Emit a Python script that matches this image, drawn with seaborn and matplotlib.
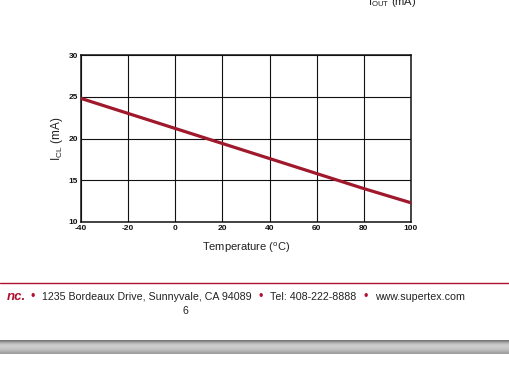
import numpy as np
import pandas as pd
import matplotlib
matplotlib.use("Agg")
import matplotlib.pyplot as plt
import seaborn as sns

temperature = [-40, -20, 0, 20, 40, 60, 80, 100]
i_cl = [24.8, 23.0, 21.2, 19.4, 17.6, 15.8, 14.0, 12.3]
x_ticks = [-40, -20, 0, 20, 40, 60, 80, 100]
y_ticks = [10, 15, 20, 25, 30]

sns.set_theme(style="white")
plt.rcParams['font.family'] = ['Liberation Sans', 'DejaVu Sans']

W, H = 510, 370
fig = plt.figure(figsize=(W / 100, H / 100), dpi=100)
ax = fig.add_axes([81 / W, 1 - 222 / H, 330 / W, 167 / H])

df = pd.DataFrame({"Temperature": temperature, "ICL": i_cl})
sns.lineplot(data=df, x="Temperature", y="ICL", ax=ax, color="#A0182C",
             linewidth=2.3, zorder=5)

ax.set_xlim(-40, 100)
ax.set_ylim(10, 30)
ax.set_xticks(x_ticks)
ax.set_yticks(y_ticks)
ax.set_xticklabels([str(v) for v in x_ticks])
ax.set_yticklabels([str(v) for v in y_ticks])
ax.tick_params(axis='both', labelsize=6, length=0, pad=2, colors="#111111")
for lab in ax.get_xticklabels() + ax.get_yticklabels():
    lab.set_fontweight('semibold')
ax.grid(True, color="#111111", linewidth=0.8)
for s in ax.spines.values():
    s.set_color("#111111")
    s.set_linewidth(1.1)
ax.set_xlabel(r"Temperature ($\mathregular{^{o}}$C)", fontsize=8, labelpad=6, color="#222222")
ax.set_ylabel(r"$\mathregular{I_{CL}}$ (mA)", fontsize=8.5, labelpad=3, color="#222222")

# Top clipped label from previous chart
fig.text(368 / W, 1 - 5 / H, r"$\mathregular{I_{OUT}}$ (mA)", fontsize=8,
         ha='left', va='baseline', color="#222222")

# Footer red rule
red = "#B01030"
fig.add_artist(plt.Line2D([0, 1], [1 - 283 / H, 1 - 283 / H], color=red,
                          linewidth=1.0, transform=fig.transFigure))

fy = 1 - 300 / H
fig.text(26 / W, fy, "nc.", fontsize=9.5, fontweight='bold', style='italic',
         color=red, ha='right', va='baseline')
fig.text(33 / W, fy, "\u2022", fontsize=9, color=red, ha='center', va='baseline')
fig.text(42 / W, fy, "1235 Bordeaux Drive, Sunnyvale, CA 94089", fontsize=7.7,
         color="#222222", ha='left', va='baseline')
fig.text(261 / W, fy, "\u2022", fontsize=9, color=red, ha='center', va='baseline')
fig.text(270 / W, fy, "Tel: 408-222-8888", fontsize=7.7, color="#222222",
         ha='left', va='baseline')
fig.text(366 / W, fy, "\u2022", fontsize=9, color=red, ha='center', va='baseline')
fig.text(375 / W, fy, "www.supertex.com", fontsize=7.7, color="#222222",
         ha='left', va='baseline')
fig.text(185 / W, 1 - 314 / H, "6", fontsize=7.7, color="#222222",
         ha='center', va='baseline')

# Gray gradient bar
gax = fig.add_axes([0, 1 - 354 / H, 1, 14 / H])
grad = np.array([0.47, 0.55, 0.65, 0.72, 0.77, 0.80, 0.80, 0.79, 0.77, 0.75, 0.72, 0.68, 0.64, 0.62]).reshape(-1, 1)
gax.imshow(grad, aspect='auto', cmap='gray', vmin=0, vmax=1, extent=[0, 1, 0, 1])
gax.axis('off')

fig.savefig("out.png", dpi=100)
